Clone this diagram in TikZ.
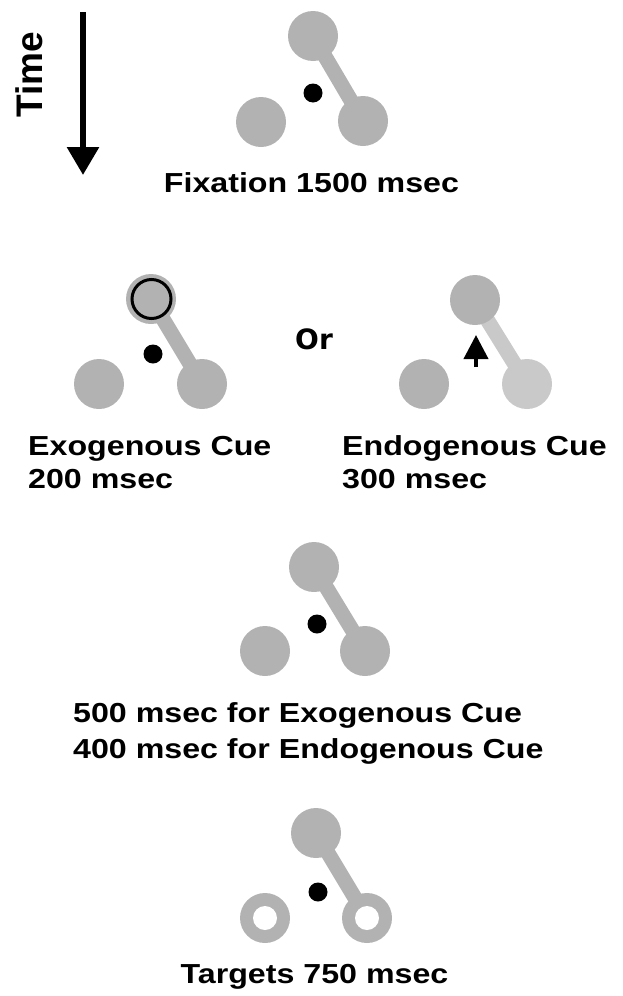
\documentclass[tikz,border=0pt]{standalone}
\usepackage{fontspec}
\setmainfont{Liberation Sans}[FakeStretch=1.17]
\newfontfamily\timefont{Liberation Sans}
\newfontfamily\orfont{DejaVu Sans}
\usetikzlibrary{arrows.meta}
\definecolor{stip}{gray}{0.70}
\definecolor{stiplight}{gray}{0.79}
\tikzset{
  stim/.style={circle, fill=stip, minimum size=50pt, inner sep=0pt},
  stimlight/.style={stim, fill=stiplight},
  bar/.style={line width=15pt, draw=stip},
  barlight/.style={bar, draw=stiplight},
  fixdot/.style={circle, fill=black, minimum size=19pt, inner sep=0pt},
  hole/.style={circle, fill=white, minimum size=24pt, inner sep=0pt},
  lab/.style={inner sep=0pt, font=\bfseries\fontsize{27.5}{33}\selectfont},
}
\begin{document}
\begin{tikzpicture}[x=1pt, y=-1pt]
\useasboundingbox (0,0) rectangle (622,996);

% Time arrow
\coordinate (ta) at (83,12);
\coordinate (tb) at (83,175);
\draw[line width=6pt, -{Triangle[width=31pt,length=28pt]}] (ta) -- (tb);
\node[inner sep=0pt, rotate=90, font=\timefont\bfseries\fontsize{37}{40}\selectfont] (time) at (29,75) {Time};

% Group 1: fixation
\coordinate (a1) at (313,36);
\coordinate (a2) at (261,122);
\coordinate (a3) at (363,121);
\draw[bar] (a1) -- (a3);
\node[stim] (g1t) at (a1) {};
\node[stim] (g1l) at (a2) {};
\node[stim] (g1r) at (a3) {};
\node[fixdot] (g1d) at (313,93) {};
\node[lab, anchor=base] (fix) at (311.5,192) {Fixation 1500 msec};

% Group 2 left: exogenous
\coordinate (b1) at (151,299);
\coordinate (b2) at (99,384);
\coordinate (b3) at (202,384);
\draw[bar] (b1) -- (b3);
\node[stim] (g2t) at (b1) {};
\node[stim] (g2l) at (b2) {};
\node[stim] (g2r) at (b3) {};
\node[circle, draw=black, line width=3pt, minimum size=39pt, inner sep=0pt] (cue) at (151.5,299) {};
\node[fixdot] (g2d) at (153,354) {};
\node[lab, anchor=base west] (exo1) at (28,455) {Exogenous Cue};
\node[lab, anchor=base west] (exo2) at (28,488) {200 msec};

% Or
\node[inner sep=0pt, anchor=base west, font=\orfont\bfseries\fontsize{28}{30}\selectfont] (or) at (295,349) {Or};

% Group 2 right: endogenous
\coordinate (c1) at (475,300);
\coordinate (c2) at (424,384);
\coordinate (c3) at (527,384);
\draw[barlight] (c1) -- (c3);
\node[stim] (g3t) at (c1) {};
\node[stim] (g3l) at (c2) {};
\node[stimlight] (g3r) at (c3) {};
\coordinate (arb) at (476,367);
\coordinate (art) at (476,335);
\draw[line width=4pt, -{Triangle[width=24pt,length=24pt]}] (arb) -- (art);
\node[lab, anchor=base west] (endo1) at (342,455) {Endogenous Cue};
\node[lab, anchor=base west] (endo2) at (342,488) {300 msec};

% Group 3: interval
\coordinate (d1) at (314,567);
\coordinate (d2) at (265,651);
\coordinate (d3) at (365,651);
\draw[bar] (d1) -- (d3);
\node[stim] (g4t) at (d1) {};
\node[stim] (g4l) at (d2) {};
\node[stim] (g4r) at (d3) {};
\node[fixdot] (g4d) at (317,624) {};
\node[lab, anchor=base west] (int1) at (73,722) {500 msec for Exogenous Cue};
\node[lab, anchor=base west] (int2) at (73,758) {400 msec for Endogenous Cue};

% Group 4: targets
\coordinate (e1) at (316,833);
\coordinate (e2) at (265,918);
\coordinate (e3) at (367,918);
\draw[bar] (e1) -- (e3);
\node[stim] (g5t) at (e1) {};
\node[stim] (g5l) at (e2) {};
\node[stim] (g5r) at (e3) {};
\node[hole] (h1) at (e2) {};
\node[hole] (h2) at (e3) {};
\node[fixdot] (g5d) at (318,892) {};
\node[lab, anchor=base] (tgt) at (314.5,983) {Targets 750 msec};
\end{tikzpicture}
\end{document}
